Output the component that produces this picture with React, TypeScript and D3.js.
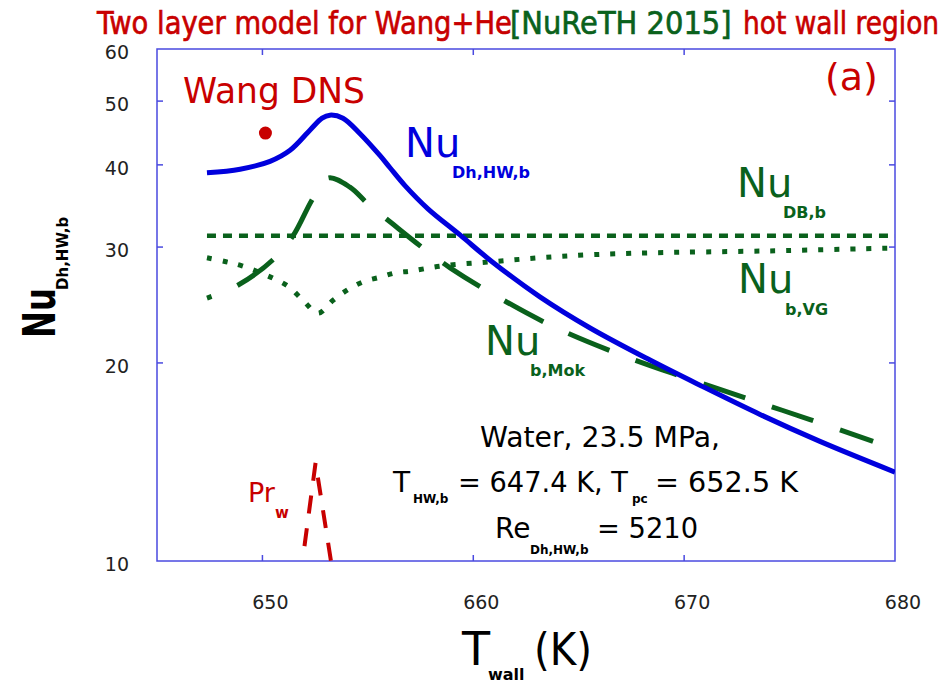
import React from "react";
import * as d3 from "d3";

// ---- data ----
const xTickValues = [650, 660, 670, 680];
const yTickValues = [10, 20, 30, 40, 50, 60];

const blueT = [647.37, 648.94, 650.36, 651.31, 652.26, 652.83, 653.2, 653.82, 654.63, 655.58, 656.05, 656.76, 657.85, 659.37, 660.89, 663.16, 665.54, 668.38, 670.75, 673.6, 676.44, 680];
const blueNu = [38.9, 39.4, 40.5, 42.1, 45.2, 47.1, 47.6, 47.1, 44.6, 41.3, 39.6, 37.2, 34.3, 31.3, 28.5, 25.2, 22.6, 20.2, 18.5, 16.7, 15.2, 13.65];

const mokT = [647.37, 648.79, 650.5, 651.45, 652.4, 653.11, 654.15, 655.0, 656.14, 657.85, 658.9, 660.7, 663.69, 666.96, 670.04, 673.12, 675.97, 678.96];
const mokNu = [25.1, 26.2, 28.7, 31.2, 35.6, 38.2, 37.0, 34.9, 32.6, 29.5, 27.9, 25.7, 22.8, 20.6, 19.0, 17.6, 16.4, 15.2];

const vgT = [647.37, 648.27, 649.03, 650.5, 651.26, 651.97, 652.64, 653.35, 654.1, 654.82, 655.58, 656.29, 657.1, 658.56, 660.89, 663.16, 665.53, 668.38, 674.07, 680];
const vgNu = [28.9, 28.5, 28.1, 26.9, 26.1, 24.8, 23.8, 24.9, 25.9, 26.6, 27.0, 27.4, 27.6, 28.1, 28.5, 28.9, 29.2, 29.4, 29.6, 29.9];

const dbT = [647.37, 680];
const dbNu = [31.2, 31.2];

const prT = [651.9, 652.52, 653.25];
const prVal = [10.0, 14.1, 10.0];

const wangT = [650];
const wangNu = [44.7];

const titleParts = ["Two layer model for Wang+He", "[NuReTH 2015]", "hot wall region"];

const BLUE = "#0000dd";
const GREEN = "#0a611c";
const RED = "#c80000";
const FRAME = "#4a4ae0";
const FONT = "DejaVu Sans, Verdana, sans-serif";

export default function App() {
  const W = 944, H = 683;
  const left = 157, right = 895, top = 49, bottom = 561;
  const x = d3.scaleLinear().domain([645, 680]).range([left, right]);
  const y = d3.scaleLog().domain([10, 60]).range([bottom, top]);
  const zip = (a: number[], b: number[]) => a.map((v, i) => [v, b[i]] as [number, number]);
  const smooth = d3.line<[number, number]>().x(d => x(d[0])).y(d => y(d[1])).curve(d3.curveCatmullRom.alpha(0.5));
  const straight = d3.line<[number, number]>().x(d => x(d[0])).y(d => y(d[1]));

  const tl = 6;
  const titleLayout = [
    { x: 97, s: 0.856, c: RED },
    { x: 510, s: 0.905, c: GREEN },
    { x: 743, s: 0.826, c: RED },
  ];
  return (
    <svg width={W} height={H} style={{ position: "absolute", left: 0, top: 0, background: "#fff" }}>
      <defs>
        <clipPath id="plot">
          <rect x={left} y={top} width={right - left} height={bottom - top} />
        </clipPath>
      </defs>
      {/* title */}
      {titleParts.map((t, i) => (
        <g key={"t" + i} transform={`translate(${titleLayout[i].x},34) scale(${titleLayout[i].s},1)`}>
          <text x={0} y={0} fontFamily="DejaVu Sans, sans-serif" fontSize={32} fill={titleLayout[i].c} stroke={titleLayout[i].c} strokeWidth={0.7}>{t}</text>
        </g>
      ))}

      {/* frame */}
      <rect x={left} y={top} width={right - left} height={bottom - top} fill="none" stroke={FRAME} strokeWidth={1.5} />
      {xTickValues.filter(v => v < 680).map(v => (
        <g key={"xt" + v}>
          <line x1={x(v)} x2={x(v)} y1={bottom} y2={bottom - tl} stroke={FRAME} strokeWidth={1.5} />
          <line x1={x(v)} x2={x(v)} y1={top} y2={top + tl} stroke={FRAME} strokeWidth={1.5} />
        </g>
      ))}
      {yTickValues.filter(v => v > 10 && v < 60).map(v => (
        <g key={"yt" + v}>
          <line x1={left} x2={left + tl} y1={y(v)} y2={y(v)} stroke={FRAME} strokeWidth={1.5} />
          <line x1={right} x2={right - tl} y1={y(v)} y2={y(v)} stroke={FRAME} strokeWidth={1.5} />
        </g>
      ))}
      {xTickValues.map(v => (
        <text key={"xl" + v} x={x(v) + 8} y={609} textAnchor="middle" fontFamily={FONT} fontSize={19} fill="#222">{v}</text>
      ))}
      {yTickValues.map(v => (
        <text key={"yl" + v} x={129} y={y(v) + 10} textAnchor="end" fontFamily={FONT} fontSize={19} fill="#222">{v}</text>
      ))}

      {/* axis titles */}
      <text x={462} y={665} fontFamily={FONT} fontSize={46} fill="#000">T</text>
      <text x={488} y={680} fontFamily={FONT} fontSize={16} fontWeight="bold" fill="#000">wall</text>
      <text x={534} y={665} fontFamily={FONT} fontSize={44} textLength={58} lengthAdjust="spacingAndGlyphs" fill="#000">(K)</text>

      <g transform="translate(55,338) rotate(-90)">
        <text x={0} y={0} fontFamily={FONT} fontSize={44} textLength={50} lengthAdjust="spacingAndGlyphs" fontWeight="bold" fill="#000">Nu</text>
      </g>
      <g transform="translate(68,290) rotate(-90)">
        <text x={0} y={0} fontFamily={FONT} fontSize={15} fontWeight="bold" fill="#000">Dh,HW,b</text>
      </g>

      {/* series */}
      <g clipPath="url(#plot)" fill="none">
        <path d={straight(zip(prT, prVal)) || ""} stroke={RED} strokeWidth={4} strokeDasharray="18,15" strokeDashoffset={18} />
        <path d={straight(zip(dbT, dbNu)) || ""} stroke={GREEN} strokeWidth={4.5} strokeDasharray="9,7" />
        <path d={smooth(zip(vgT, vgNu)) || ""} stroke={GREEN} strokeWidth={5} strokeDasharray="5,11" />
        <path d={smooth(zip(mokT, mokNu)) || ""} stroke={GREEN} strokeWidth={5} strokeDasharray="44,28" strokeDashoffset={39} />
        <path d={smooth(zip(blueT, blueNu)) || ""} stroke={BLUE} strokeWidth={5} />
      </g>
      {wangT.map((t, i) => (
        <circle key={"w" + i} cx={x(t) + 3} cy={y(wangNu[i])} r={6.5} fill={RED} />
      ))}

      {/* labels */}
      <text x={183} y={103} fontFamily={FONT} fontSize={36} textLength={182} lengthAdjust="spacingAndGlyphs" fill={RED}>Wang DNS</text>
      <text x={825} y={90} fontFamily={FONT} fontSize={38} fill={RED}>(a)</text>

      <text x={405} y={157} fontFamily={FONT} fontSize={40} fill={BLUE}>Nu</text>
      <text x={452} y={178} fontFamily={FONT} fontSize={16} fontWeight="bold" fill={BLUE}>Dh,HW,b</text>

      <text x={737} y={197} fontFamily={FONT} fontSize={40} fill={GREEN}>Nu</text>
      <text x={783} y={218} fontFamily={FONT} fontSize={16} fontWeight="bold" fill={GREEN}>DB,b</text>

      <text x={738} y={293} fontFamily={FONT} fontSize={40} fill={GREEN}>Nu</text>
      <text x={785} y={315} fontFamily={FONT} fontSize={16} fontWeight="bold" fill={GREEN}>b,VG</text>

      <text x={485} y={355} fontFamily={FONT} fontSize={40} fill={GREEN}>Nu</text>
      <text x={530} y={376} fontFamily={FONT} fontSize={16} fontWeight="bold" fill={GREEN}>b,Mok</text>

      <text x={248} y={502} fontFamily={FONT} fontSize={27} fill={RED}>Pr</text>
      <text x={275} y={518} fontFamily={FONT} fontSize={15} fontWeight="bold" fill={RED}>w</text>

      <text x={480} y={447} fontFamily={FONT} fontSize={28} textLength={240} lengthAdjust="spacingAndGlyphs" fill="#000">Water, 23.5 MPa,</text>
      <text x={393} y={492} fontFamily={FONT} fontSize={28} fill="#000">T</text>
      <text x={413} y={503} fontFamily={FONT} fontSize={12} fontWeight="bold" fill="#000">HW,b</text>
      <text x={458} y={492} fontFamily={FONT} fontSize={28} textLength={170} lengthAdjust="spacingAndGlyphs" fill="#000">= 647.4 K, T</text>
      <text x={632} y={503} fontFamily={FONT} fontSize={12} fontWeight="bold" fill="#000">pc</text>
      <text x={655} y={492} fontFamily={FONT} fontSize={28} textLength={143} lengthAdjust="spacingAndGlyphs" fill="#000">= 652.5 K</text>
      <text x={495} y={538} fontFamily={FONT} fontSize={28} fill="#000">Re</text>
      <text x={530} y={554} fontFamily={FONT} fontSize={12} fontWeight="bold" fill="#000">Dh,HW,b</text>
      <text x={597} y={538} fontFamily={FONT} fontSize={28} textLength={101} lengthAdjust="spacingAndGlyphs" fill="#000">= 5210</text>
    </svg>
  );
}
